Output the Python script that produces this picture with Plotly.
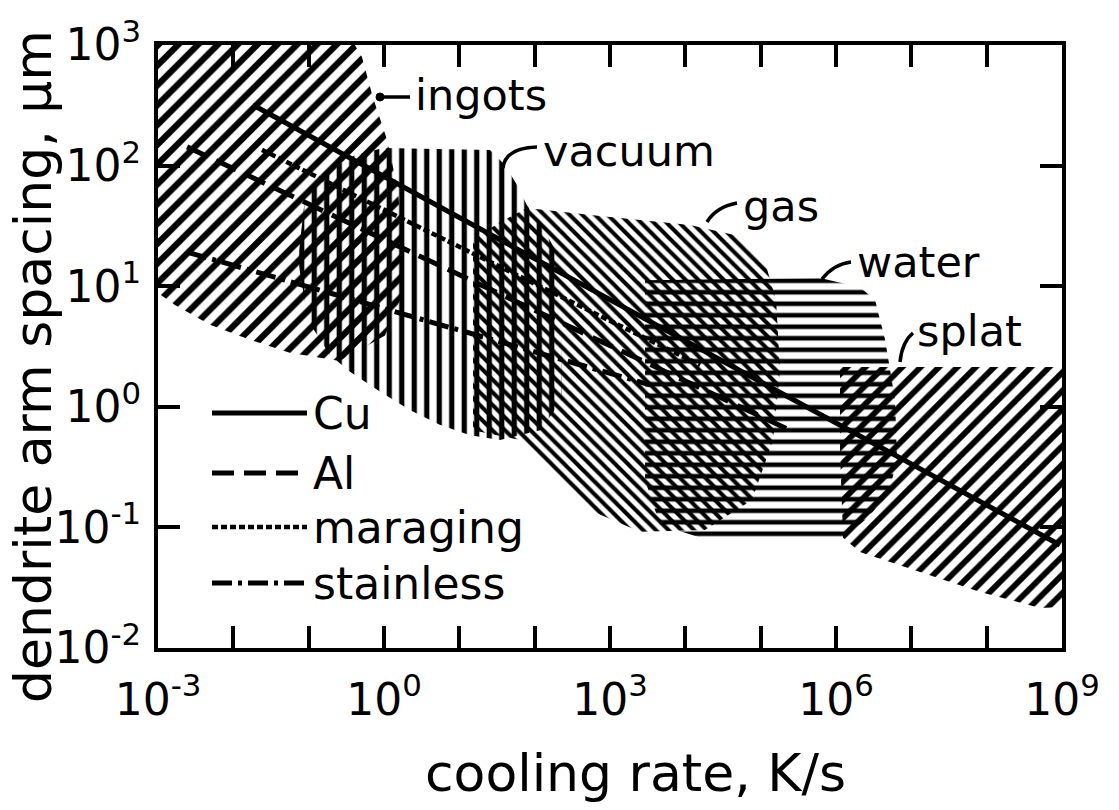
import plotly.graph_objects as go

# ---------------- data ----------------
# process regions: cooling rate (K/s) and dendrite arm spacing (um) outlines
INGOTS_RATE = [1e-3, 0.41, 0.51, 0.71, 1.10, 1.53, 1.79, 1.63, 1.03, 0.26, 0.056, 0.0166, 0.0049, 0.00168, 1e-3]
INGOTS_DAS = [1000, 1000, 794, 371, 163, 62.8, 20, 7.7, 3.9, 2.4, 2.8, 3.6, 4.8, 7.0, 8.8]

VACUUM_RATE = [0.97, 25.5, 40.4, 58.3, 79, 137, 217, 231, 118, 34.7, 13.9, 5.5, 2.2, 0.89, 0.354, 0.19, 0.098, 0.072, 0.089, 0.19, 0.41]
VACUUM_DAS = [140, 135, 101, 69, 47, 29, 16.5, 1.14, 0.64, 0.53, 0.58, 0.71, 0.94, 1.33, 1.95, 2.7, 5.2, 16.5, 52, 92, 122]

GAS_RATE = [15.2, 34.7, 79, 738, 11500, 53200, 114000, 160000, 181000, 146000, 76700, 18200, 2500, 543, 160, 64, 15.2]
GAS_DAS = [24.2, 34, 44.5, 38.2, 32.2, 26, 15.9, 7.7, 2.02, 0.53, 0.169, 0.095, 0.092, 0.139, 0.30, 0.53, 0.64]

WATER_RATE = [2920, 614000, 2.08e6, 3.3e6, 4.48e6, 6.08e6, 6.46e6, 4.9e6, 2.43e6, 1.24e6, 19400, 4610, 2920]
WATER_DAS = [11.2, 11.7, 9.8, 7.7, 3.6, 1.14, 0.36, 0.186, 0.115, 0.082, 0.079, 0.105, 0.247]

SPLAT_RATE = [1.13e6, 1e9, 1e9, 5.1e8, 8.2e7, 1.05e7, 2.08e6, 1.24e6, 1.13e6]
SPLAT_DAS = [2.14, 2.14, 0.0219, 0.0215, 0.0291, 0.0444, 0.0625, 0.082, 0.44]

REGION_NAMES = ["ingots", "vacuum", "gas", "water", "splat"]

# alloy lines (end points)
CU_RATE = [0.0182, 9.4e8]
CU_DAS = [318, 0.0714]
AL_RATE = [0.00243, 2.45e5]
AL_DAS = [143, 0.64]
MARAGING_RATE = [0.024, 1.57e4]
MARAGING_DAS = [135, 2.22]
STAINLESS_RATE = [0.00243, 3400]
STAINLESS_DAS = [19.2, 1.52]

SERIES_NAMES = ["Cu", "Al", "maraging", "stainless"]

X_TICK_EXP = list(range(-3, 10))
X_LABEL_EXP = [-3, 0, 3, 6, 9]
Y_TICK_EXP = list(range(-2, 4))

X_TITLE = "cooling rate, K/s"
Y_TITLE = "dendrite arm spacing, \u00b5m"

# ---------------- layout constants ----------------
W, H = 1119, 810
L, R, T, B = 158, 57, 45, 162
PW, PH = W - L - R, H - T - B
FONT = "DejaVu Sans"


def px2p(x, y):
    return (x - L) / PW, 1 - (y - T) / PH


fig = go.Figure()

region_data = [
    (INGOTS_RATE, INGOTS_DAS, dict(shape="/", size=14, solidity=0.45)),
    (VACUUM_RATE, VACUUM_DAS, dict(shape="|", size=12.5, solidity=0.42)),
    (GAS_RATE, GAS_DAS, dict(shape="\\", size=9, solidity=0.45)),
    (WATER_RATE, WATER_DAS, dict(shape="-", size=11.5, solidity=0.4)),
    (SPLAT_RATE, SPLAT_DAS, dict(shape="/", size=13, solidity=0.45)),
]
for (rx, ry, pat), name in zip(region_data, REGION_NAMES):
    fig.add_trace(go.Scatter(
        x=rx, y=ry, mode="lines", fill="toself", name=name,
        line=dict(width=0, color="rgba(0,0,0,0)"),
        fillcolor="rgba(0,0,0,0)",
        fillpattern=dict(fgcolor="black", bgcolor="rgba(0,0,0,0)", fgopacity=1, **pat),
        hoverinfo="skip", showlegend=False,
    ))

line_styles = [
    dict(width=5, dash="solid"),
    dict(width=5, dash="22px,10px"),
    dict(width=4.5, dash="6px,3px"),
    dict(width=5, dash="20px,6px,4px,6px"),
]
series = [(CU_RATE, CU_DAS), (AL_RATE, AL_DAS), (MARAGING_RATE, MARAGING_DAS), (STAINLESS_RATE, STAINLESS_DAS)]
for (sx, sy), name, st in zip(series, SERIES_NAMES, line_styles):
    fig.add_trace(go.Scatter(
        x=sx, y=sy, mode="lines", name=name,
        line=dict(color="black", **st), showlegend=False,
    ))

shapes = []
annotations = []

# hand-drawn style legend
legend_y = [413, 473, 527, 583]
for name, st, yy in zip(SERIES_NAMES, line_styles, legend_y):
    x0, y0 = px2p(212, yy)
    x1, _ = px2p(307, yy)
    shapes.append(dict(type="line", xref="paper", yref="paper", x0=x0, x1=x1, y0=y0, y1=y0,
                       line=dict(color="black", width=st["width"], dash=st["dash"])))
    tx, _ = px2p(311, yy)
    annotations.append(dict(x=tx, y=y0, xref="paper", yref="paper", text=name, showarrow=False,
                            xanchor="left", yanchor="middle", font=dict(size=44, color="black", family=FONT)))

# region labels with leader marks
label_pos = {"ingots": (413, 95), "vacuum": (541, 151), "gas": (741, 206), "water": (855, 262), "splat": (915, 331)}
for name in REGION_NAMES:
    px, py = label_pos[name]
    x, y = px2p(px, py)
    annotations.append(dict(x=x, y=y, xref="paper", yref="paper", text=name, showarrow=False,
                            xanchor="left", yanchor="middle", font=dict(size=43, color="black", family=FONT)))


def pth(points):
    s = ""
    for cmd, pts in points:
        s += cmd + " " + " ".join("%.5f,%.5f" % px2p(a, b) for a, b in pts) + " "
    return s.strip()


leaders = [
    pth([("M", [(378, 97)]), ("L", [(410, 97)])]),
    pth([("M", [(503, 168)]), ("Q", [(505, 148), (537, 147)])]),
    pth([("M", [(707, 222)]), ("Q", [(716, 207), (737, 203)])]),
    pth([("M", [(822, 279)]), ("Q", [(834, 264), (851, 262)])]),
    pth([("M", [(900, 362)]), ("Q", [(902, 342), (913, 333)])]),
]
for p in leaders:
    shapes.append(dict(type="path", xref="paper", yref="paper", path=p,
                       line=dict(color="black", width=3.5)))
cx, cy = px2p(380, 97)
shapes.append(dict(type="circle", xref="paper", yref="paper",
                   x0=cx - 4 / PW, x1=cx + 4 / PW, y0=cy - 4 / PH, y1=cy + 4 / PH,
                   fillcolor="black", line=dict(color="black", width=1)))

# axis titles
xt, yt = px2p(635, 773)
annotations.append(dict(x=xt, y=yt, xref="paper", yref="paper", text=X_TITLE, showarrow=False,
                        xanchor="center", yanchor="middle", font=dict(size=52, color="black", family=FONT)))
xt, yt = px2p(33, 367)
annotations.append(dict(x=xt, y=yt, xref="paper", yref="paper", text=Y_TITLE, showarrow=False, textangle=-90,
                        xanchor="center", yanchor="middle", font=dict(size=52, color="black", family=FONT)))

xtext = ["10<sup>%d</sup>" % e if e in X_LABEL_EXP else "" for e in X_TICK_EXP]
ytext = ["10<sup>%d</sup>" % e for e in Y_TICK_EXP]

axis_common = dict(type="log", showgrid=False, zeroline=False, showline=True, linecolor="black",
                   linewidth=4, mirror="ticks", ticks="inside", ticklen=22, tickwidth=3.5,
                   tickcolor="black", tickfont=dict(size=44, color="black", family=FONT))

fig.update_layout(
    width=W, height=H,
    margin=dict(l=L, r=R, t=T, b=B),
    paper_bgcolor="white", plot_bgcolor="white",
    xaxis=dict(range=[-3, 9], tickvals=[10.0 ** e for e in X_TICK_EXP], ticktext=xtext,
               ticklabelstandoff=10, **axis_common),
    yaxis=dict(range=[-2, 3], tickvals=[10.0 ** e for e in Y_TICK_EXP], ticktext=ytext,
               ticklabelstandoff=4, **axis_common),
    shapes=shapes, annotations=annotations, showlegend=False,
)

fig.write_html("out.html")
